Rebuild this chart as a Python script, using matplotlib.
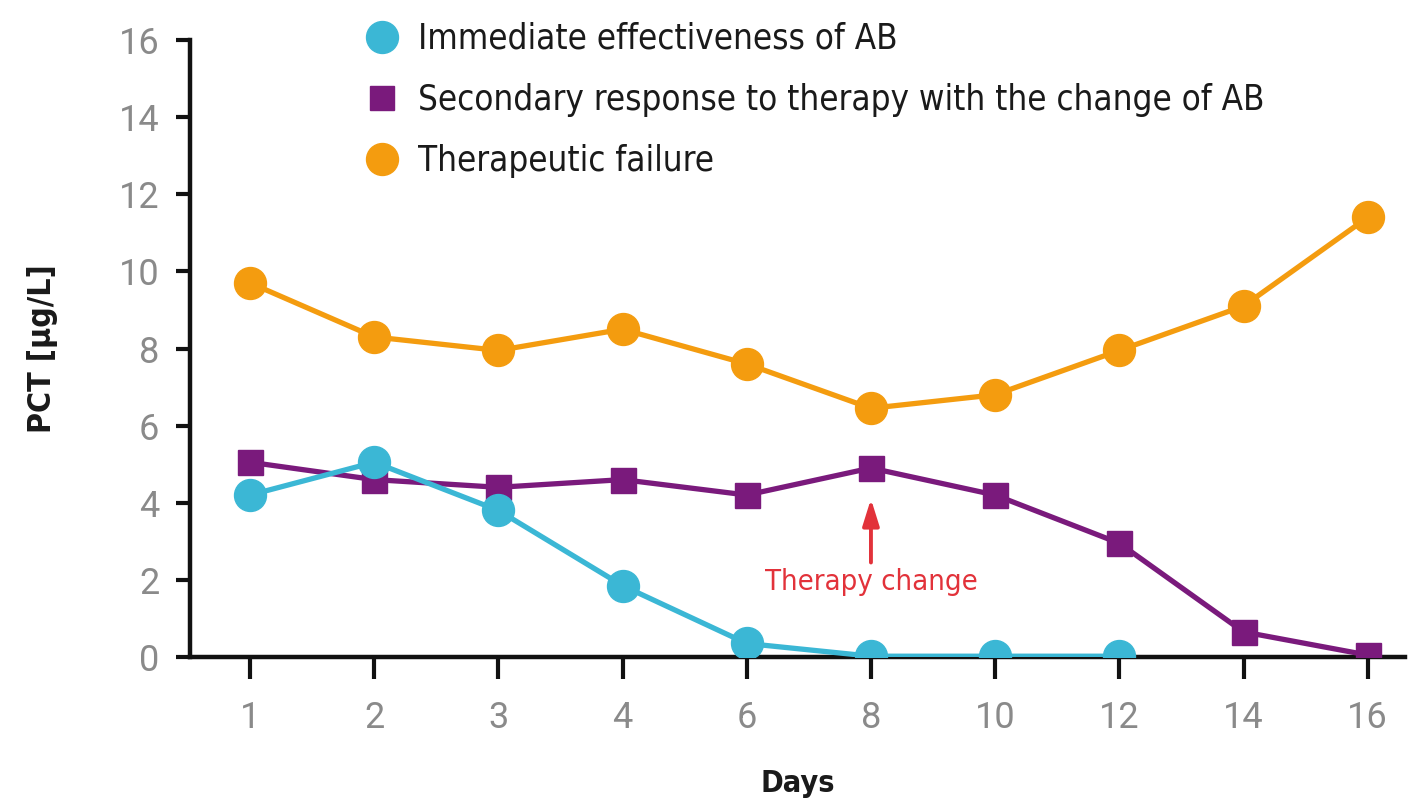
import matplotlib
matplotlib.use('Agg')
import matplotlib.pyplot as plt
from matplotlib.lines import Line2D

# Dados
dias = ['1', '2', '3', '4', '6', '8', '10', '12', '14', '16']
imediata = [4.2, 5.05, 3.8, 1.85, 0.35, 0.02, 0.02, 0.02]
secundaria = [5.05, 4.6, 4.4, 4.6, 4.2, 4.9, 4.2, 2.95, 0.65, 0.05]
falha = [9.7, 8.3, 7.95, 8.5, 7.6, 6.45, 6.8, 7.95, 9.1, 11.4]
y_ticks = [0, 2, 4, 6, 8, 10, 12, 14, 16]

COR_CIANO = '#3bb7d5'
COR_ROXO = '#7a1a7c'
COR_LARANJA = '#f49c0f'
COR_VERMELHO = '#e2323a'

FAM = ['DejaVu Sans']

fig = plt.figure(figsize=(14.14, 8.07), dpi=100)
ax = fig.add_axes([0.1344, 0.1859, 0.8592, 0.7645])

x = list(range(len(dias)))

ax.plot(x, falha, color=COR_LARANJA, lw=3.8, marker='o', ms=23,
        mec=COR_LARANJA, zorder=3)
ax.plot(x, secundaria, color=COR_ROXO, lw=3.8, marker='s', ms=18,
        mec=COR_ROXO, zorder=4)
ax.plot(x[:len(imediata)], imediata, color=COR_CIANO, lw=3.8, marker='o', ms=23,
        mec=COR_CIANO, zorder=5)

ax.set_xlim(-0.483, 9.3)
ax.set_ylim(0, 16)
ax.set_xticks(x)
ax.set_xticklabels(dias)
ax.set_yticks(y_ticks)

for s in ['top', 'right']:
    ax.spines[s].set_visible(False)
for s in ['left', 'bottom']:
    ax.spines[s].set_linewidth(3.2)
    ax.spines[s].set_color('#111111')
ax.spines['bottom'].set_zorder(2)

ax.tick_params(axis='y', direction='out', length=10, width=3, color='#111111',
               pad=12, labelsize=26, labelcolor='#8a8a8a')
ax.tick_params(axis='x', direction='out', length=16, width=3, color='#111111',
               pad=15, labelsize=26, labelcolor='#8a8a8a')
for lab in ax.get_xticklabels() + ax.get_yticklabels():
    lab.set_family(['Roboto', 'DejaVu Sans'])
    lab.set_fontweight('normal')

ax.set_ylabel('PCT [µg/L]', fontsize=23, family=FAM, fontstretch='condensed',
              fontweight='bold', color='#1a1a1a', labelpad=44)
ax.set_xlabel('Days', fontsize=22, family=FAM, fontstretch='condensed',
              fontweight='bold', color='#1a1a1a', labelpad=24)

# Anotação da mudança de terapia
ax.annotate('', xy=(5, 4.1), xytext=(5, 2.45),
            arrowprops=dict(arrowstyle='-|>,head_width=0.5,head_length=1.6',
                            color=COR_VERMELHO, lw=2.8, shrinkA=0, shrinkB=0))
ax.text(5, 1.95, 'Therapy change', ha='center', va='center', fontsize=21,
        family=FAM, fontstretch='condensed', color=COR_VERMELHO)

# Legenda
handles = [
    Line2D([], [], ls='none', marker='o', ms=23, color=COR_CIANO),
    Line2D([], [], ls='none', marker='s', ms=17, color=COR_ROXO),
    Line2D([], [], ls='none', marker='o', ms=23, color=COR_LARANJA),
]
labels = ['Immediate effectiveness of AB',
          'Secondary response to therapy with the change of AB',
          'Therapeutic failure']
leg = ax.legend(handles, labels, loc='upper left', bbox_to_anchor=(0.118, 1.08),
                frameon=False, handlelength=1.0, handletextpad=0.55,
                labelspacing=0.78,
                prop={'family': FAM, 'size': 25, 'stretch': 'condensed'})
for t in leg.get_texts():
    t.set_color('#1a1a1a')

fig.savefig('out.png', dpi=100)
